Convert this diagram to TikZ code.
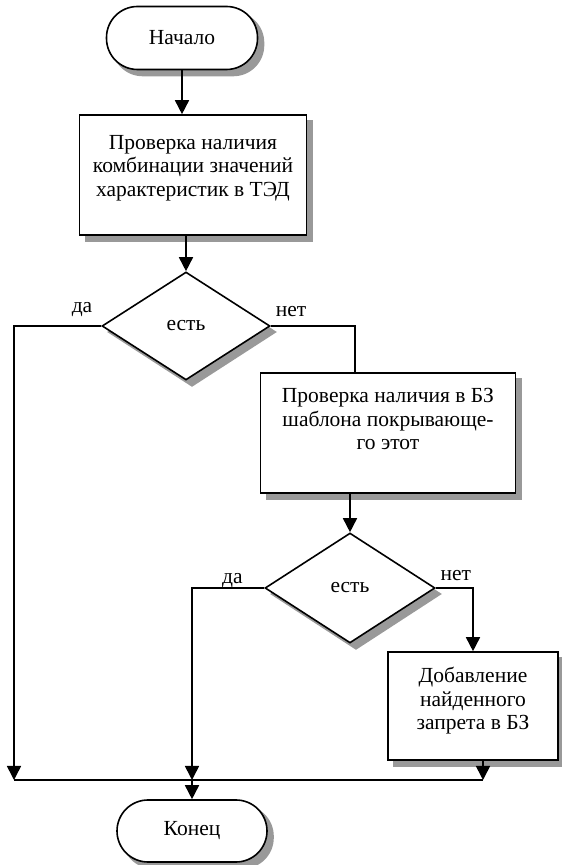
\documentclass[tikz,border=0pt]{standalone}
\usepackage{fontspec}
\setmainfont{Liberation Serif}
\usetikzlibrary{arrows.meta,shapes.geometric,backgrounds,calc}

\begin{document}
\begin{tikzpicture}[x=1pt,y=1pt,line width=1.6pt,>={Triangle[length=14pt,width=14pt]},
        font=\fontsize{21.5}{23.5}\selectfont,
        terminal/.style={draw,fill=white,rectangle,rounded corners=31pt,inner sep=0pt},
        process/.style={draw,fill=white,rectangle,align=center,inner sep=0pt},
        decision/.style={draw,fill=white,diamond,inner sep=0pt},
        shadowfill/.style={fill=black!40,draw=none}]

  \useasboundingbox (0,0) rectangle (562,865);

  \node[terminal,minimum width=151pt,minimum height=63pt] (start) at (182,827) {Начало};
  \node[process,minimum width=227pt,minimum height=120pt,text depth=19pt] (check1) at (193,690)
        {Проверка наличия\\комбинации значений\\характеристик в ТЭД};
  \node[decision,minimum width=168pt,minimum height=108pt] (dec1) at (186,539) {есть};
  \node[process,minimum width=255pt,minimum height=120pt,text depth=28pt] (check2) at (388,432)
        {Проверка наличия в БЗ\\шаблона покрывающе-\\го этот};
  \node[decision,minimum width=170pt,minimum height=110pt] (dec2) at (350,277) {есть};
  \node[process,minimum width=170pt,minimum height=108pt,text depth=15pt] (add) at (473,159)
        {Добавление\\найденного\\запрета в БЗ};
  \node[terminal,minimum width=150pt,minimum height=62pt] (end) at (192,34) {Конец};

  \begin{scope}[on background layer]
    \foreach \nd in {check1,check2,add}
      \fill[shadowfill] ($(\nd.south west)+(6,-6)$) rectangle ($(\nd.north east)+(6,-6)$);
    \foreach \nd in {start,end}
      \fill[shadowfill,rounded corners=31pt] ($(\nd.south west)+(6,-6)$) rectangle ($(\nd.north east)+(6,-6)$);
    \foreach \nd in {dec1,dec2}
      \fill[shadowfill] ($(\nd.north)+(6,-6)$) -- ($(\nd.east)+(6,-6)$)
        -- ($(\nd.south)+(6,-6)$) -- ($(\nd.west)+(6,-6)$) -- cycle;
  \end{scope}

  \coordinate (jl) at (14,85);
  \coordinate (jm) at (192,85);
  \coordinate (jr) at (483,85);

  \draw[->] (start) -- (start |- check1.north);
  \draw[->] (check1.south -| dec1) -- (dec1.north);
  \draw[->] (dec1.west) -| node[above=5pt,pos=0.11] {да} (jl);
  \draw (dec1.east) -| node[above=5pt,pos=0.12] {нет} ([xshift=-33pt]check2.north);
  \draw[->] (check2.south -| dec2) -- (dec2.north);
  \draw[->] (dec2.west) -| node[above=-4pt,pos=0.22] {да} (jm);
  \draw[->] (dec2.east) -| node[above=3pt,pos=0.27] {нет} (add.north);
  \draw[->] (add.south -| jr) -- (jr);
  \draw (jl) -- (jr);
  \draw[->] (jm) -- (end);

\end{tikzpicture}
\end{document}
